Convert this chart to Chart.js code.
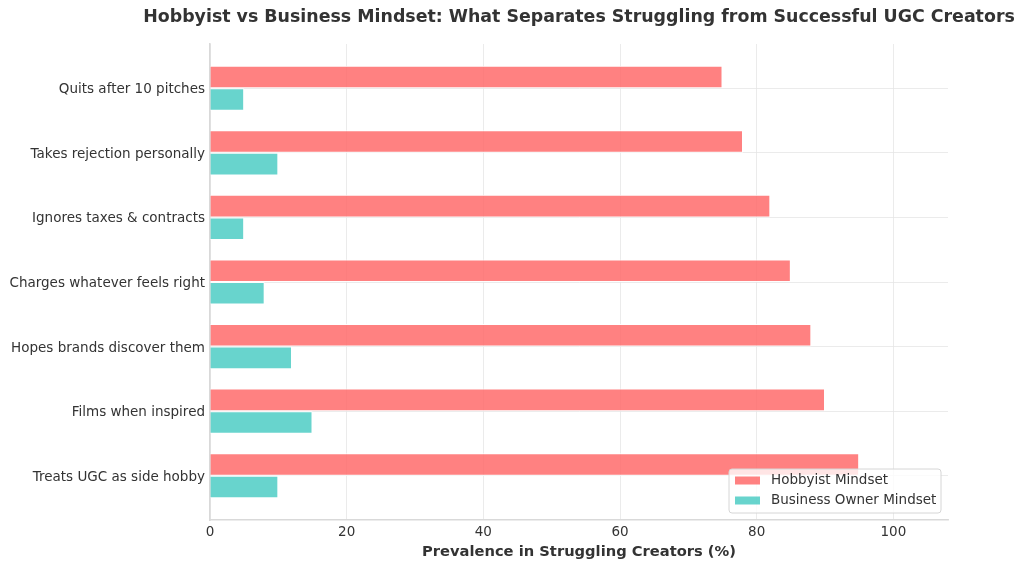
<!DOCTYPE html>
<html>
<head>
<meta charset="utf-8">
<script src="https://cdn.jsdelivr.net/npm/chart.js@4.4.0/dist/chart.umd.min.js"></script>
<style>
  html, body { margin: 0; padding: 0; background: #fff; }
  #wrap { width: 1024px; height: 568px; }
</style>
</head>
<body>
<div id="wrap"><canvas id="mindsetChart"></canvas></div>
<script>
// top row first
const categories = [
  'Quits after 10 pitches',
  'Takes rejection personally',
  'Ignores taxes & contracts',
  'Charges whatever feels right',
  'Hopes brands discover them',
  'Films when inspired',
  'Treats UGC as side hobby'
];
const hobbyistValues = [75, 78, 82, 85, 88, 90, 95];
const businessValues = [5, 10, 5, 8, 12, 15, 10];
const xTicks = [0, 20, 40, 60, 80, 100];

const chartTitle = 'Hobbyist vs Business Mindset: What Separates Struggling from Successful UGC Creators';
const xTitle = 'Prevalence in Struggling Creators (%)';
const seriesNames = ['Hobbyist Mindset', 'Business Owner Mindset'];

const FONT = "'DejaVu Sans', sans-serif";
const TEXT = '#333333';

// title centred on the plot, like the original
const titlePlugin = {
  id: 'axesTitle',
  afterDraw(chart) {
    const { ctx, chartArea } = chart;
    ctx.save();
    ctx.font = 'bold 17.4px ' + FONT;
    ctx.fillStyle = TEXT;
    ctx.textAlign = 'center';
    ctx.textBaseline = 'middle';
    ctx.fillText(chartTitle, (chartArea.left + chartArea.right) / 2, 17);
    ctx.restore();
  }
};

// legend box in the lower right corner of the plot
const insideLegend = {
  id: 'insideLegend',
  afterDatasetsDraw(chart) {
    const { ctx, chartArea } = chart;
    const boxW = 212, boxH = 44;
    const x = chartArea.right - 7 - boxW;
    const y = chartArea.bottom - 7 - boxH;
    ctx.save();
    ctx.beginPath();
    ctx.roundRect(x, y, boxW, boxH, 3);
    ctx.fillStyle = 'rgba(255,255,255,0.8)';
    ctx.fill();
    ctx.strokeStyle = '#d6d6d6';
    ctx.lineWidth = 1;
    ctx.stroke();
    ctx.font = '13.5px ' + FONT;
    ctx.textBaseline = 'middle';
    chart.data.datasets.forEach((ds, i) => {
      const cy = y + 11.5 + i * 20;
      ctx.fillStyle = ds.backgroundColor;
      ctx.fillRect(x + 6, cy - 4, 25, 8);
      ctx.fillStyle = TEXT;
      ctx.fillText(ds.label, x + 42, cy);
    });
    ctx.restore();
  }
};

new Chart(document.getElementById('mindsetChart'), {
  type: 'bar',
  data: {
    datasets: [
      {
        label: seriesNames[0],
        data: hobbyistValues.map((v, i) => ({ x: v, y: i })),
        backgroundColor: 'rgba(255, 107, 107, 0.85)',
        borderColor: 'rgba(255,255,255,0.9)',
        borderWidth: 1
      },
      {
        label: seriesNames[1],
        data: businessValues.map((v, i) => ({ x: v, y: i })),
        backgroundColor: 'rgba(78, 205, 196, 0.85)',
        borderColor: 'rgba(255,255,255,0.9)',
        borderWidth: 1
      }
    ]
  },
  options: {
    indexAxis: 'y',
    responsive: true,
    maintainAspectRatio: false,
    animation: false,
    categoryPercentage: 0.7,
    barPercentage: 1.0,
    layout: { padding: { left: 10, right: 76, top: 44, bottom: 0 } },
    plugins: {
      legend: { display: false },
      title: { display: false },
      tooltip: { enabled: false }
    },
    scales: {
      x: {
        type: 'linear',
        min: 0,
        max: 108,
        afterBuildTicks: s => { s.ticks = xTicks.map(v => ({ value: v })); },
        afterFit: s => { s.height = 48; },
        grid: { color: '#e6e6e6', lineWidth: 0.8, drawTicks: false },
        border: { color: '#d9d9d9', width: 1.6 },
        ticks: { color: TEXT, font: { family: FONT, size: 13.5 }, padding: 4 },
        title: {
          display: true,
          text: xTitle,
          color: TEXT,
          font: { family: FONT, size: 14.7, weight: 'bold' },
          padding: { top: 0, bottom: 7 }
        }
      },
      y: {
        type: 'linear',
        min: -0.685,
        max: categories.length - 1 + 0.685,
        reverse: true,
        offset: false,
        afterBuildTicks: s => { s.ticks = categories.map((_, i) => ({ value: i })); },
        afterFit: s => { s.width = 200; },
        grid: { color: '#e6e6e6', lineWidth: 0.8, drawTicks: false, offset: false },
        border: { color: '#d9d9d9', width: 1.6 },
        ticks: {
          color: TEXT,
          font: { family: FONT, size: 13.5 },
          padding: 5,
          labelOffset: 1.5,
          callback: v => categories[v]
        }
      }
    }
  },
  plugins: [titlePlugin, insideLegend]
});
</script>
</body>
</html>
